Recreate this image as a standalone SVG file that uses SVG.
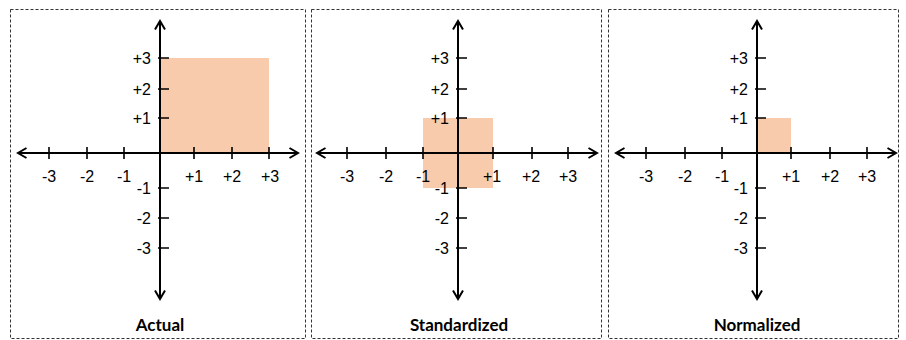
<svg xmlns="http://www.w3.org/2000/svg" width="906" height="340" viewBox="0 0 906 340">
<style>
.frame{fill:none;stroke:#333;stroke-width:1;stroke-dasharray:3,2}
.axis{stroke:#000;stroke-width:2;fill:none;marker-start:url(#ah);marker-end:url(#ah)}
.tick{stroke:#000;stroke-width:1.6}
.area{fill:#F8CBAD}
.num{font-family:"Liberation Sans",Arial,sans-serif;font-size:16px;fill:#000}
.xl{text-anchor:middle}
.yl{text-anchor:end}
.title{font-family:Lato,"Open Sans",sans-serif;font-weight:bold;font-size:17px;fill:#000;text-anchor:middle}
</style>
<defs>
<marker id="ah" viewBox="0 0 12 12" refX="10" refY="6" markerWidth="12" markerHeight="12" markerUnits="userSpaceOnUse" orient="auto-start-reverse">
<path d="M1.5,1 L10,6 L1.5,11" fill="none" stroke="#000" stroke-width="2"/>
</marker>
</defs>

<g id="panel-actual">
<rect class="frame" x="10.5" y="9.5" width="295" height="329"/>
<rect class="area" x="160" y="58" width="109" height="95"/>
<g id="axes-actual">
<line class="axis" x1="18" y1="153" x2="298" y2="153"/>
<line class="axis" x1="160" y1="21" x2="160" y2="299"/>
<path class="tick" d="M49,147V159M87,147V159M124,147V159M194,147V159M232,147V159M269,147V159M158,58H169M158,89H169M158,118H169M158,188H169M158,218H169M158,248H169"/>
</g>
<g class="num xl">
<text x="49" y="182">-3</text><text x="87" y="182">-2</text><text x="124" y="182">-1</text>
<text x="194" y="182">+1</text><text x="232" y="182">+2</text><text x="270" y="182">+3</text>
</g>
<g class="num yl">
<text x="151" y="64">+3</text><text x="151" y="95">+2</text><text x="151" y="124">+1</text>
<text x="151" y="194">-1</text><text x="151" y="224">-2</text><text x="151" y="254">-3</text>
</g>
<text class="title" x="160" y="331">Actual</text>
</g>

<g id="panel-standardized">
<rect class="frame" x="311.5" y="9.5" width="290" height="329"/>
<rect class="area" x="423" y="118" width="70" height="70"/>
<g id="axes-standardized">
<line class="axis" x1="317" y1="153" x2="597" y2="153"/>
<line class="axis" x1="458" y1="21" x2="458" y2="299"/>
<path class="tick" d="M347,147V159M386,147V159M423,147V159M493,147V159M532,147V159M568,147V159M456,58H467M456,89H467M456,118H467M456,188H467M456,218H467M456,248H467"/>
</g>
<g class="num xl">
<text x="347" y="182">-3</text><text x="386" y="182">-2</text><text x="423" y="182">-1</text>
<text x="492" y="182">+1</text><text x="531" y="182">+2</text><text x="568" y="182">+3</text>
</g>
<g class="num yl">
<text x="449" y="64">+3</text><text x="449" y="95">+2</text><text x="449" y="124">+1</text>
<text x="449" y="194">-1</text><text x="449" y="224">-2</text><text x="449" y="254">-3</text>
</g>
<text class="title" x="459" y="331">Standardized</text>
</g>

<g id="panel-normalized">
<rect class="frame" x="608.5" y="9.5" width="290" height="329"/>
<rect class="area" x="757" y="118" width="34" height="35"/>
<g id="axes-normalized">
<line class="axis" x1="616" y1="153" x2="896" y2="153"/>
<line class="axis" x1="757" y1="21" x2="757" y2="299"/>
<path class="tick" d="M646,147V159M685,147V159M722,147V159M791,147V159M830,147V159M867,147V159M755,58H766M755,89H766M755,118H766M755,188H766M755,218H766M755,248H766"/>
</g>
<g class="num xl">
<text x="646" y="182">-3</text><text x="685" y="182">-2</text><text x="722" y="182">-1</text>
<text x="791" y="182">+1</text><text x="830" y="182">+2</text><text x="867" y="182">+3</text>
</g>
<g class="num yl">
<text x="748" y="64">+3</text><text x="748" y="95">+2</text><text x="748" y="124">+1</text>
<text x="748" y="194">-1</text><text x="748" y="224">-2</text><text x="748" y="254">-3</text>
</g>
<text class="title" x="757" y="331">Normalized</text>
</g>
</svg>
